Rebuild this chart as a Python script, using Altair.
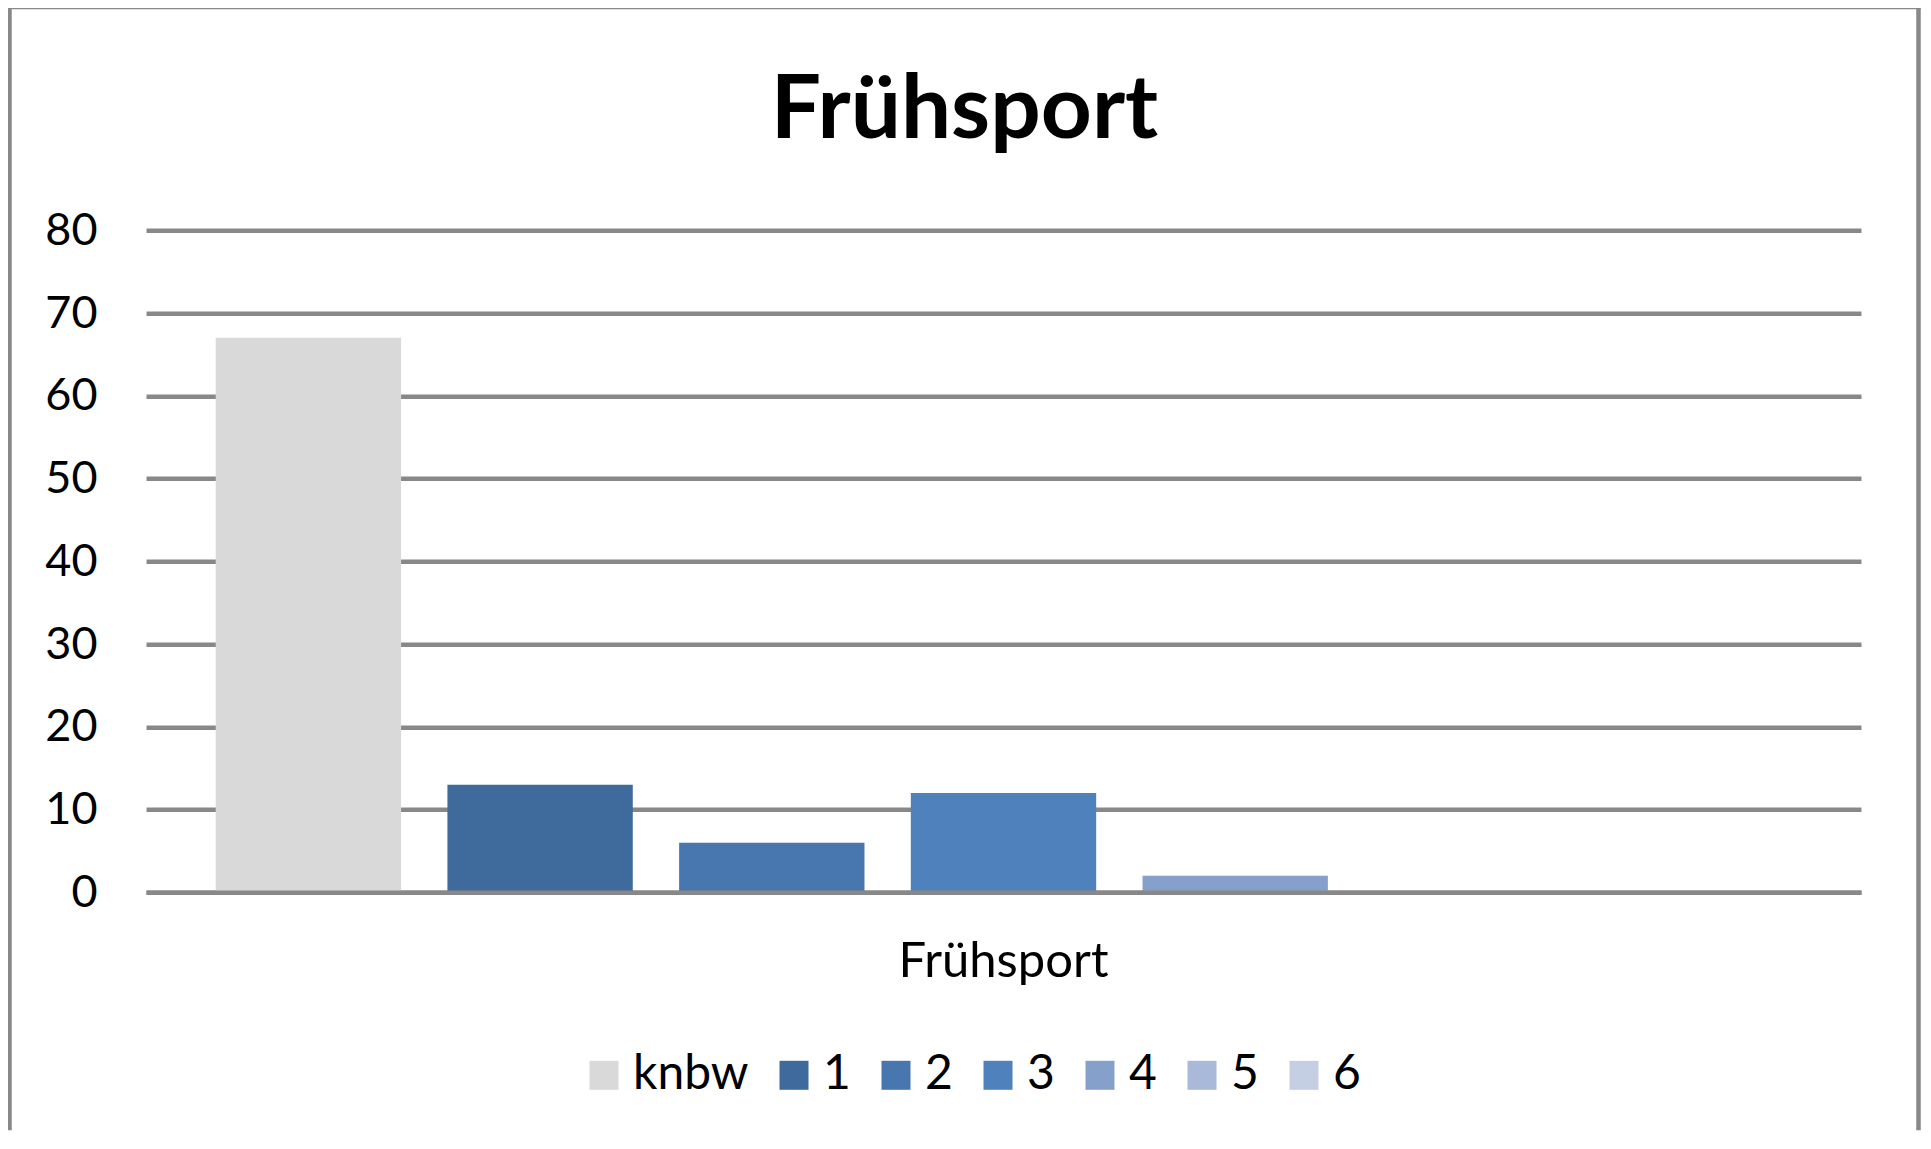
import altair as alt
import pandas as pd

# ---- data ----
CATEGORY = ["Frühsport"]
SERIES = ["knbw", "1", "2", "3", "4", "5", "6"]
VALUES = [67, 13, 6, 12, 2, 0, 0]
COLORS = ["#D9D9D9", "#3F6A9C", "#4876AF", "#4F81BD", "#86A0CC", "#A9B9D9", "#C4CFE3"]
Y_TICKS = [0, 10, 20, 30, 40, 50, 60, 70, 80]
TITLE = ["Frühsport"]

GRAY = "#888888"
FONT = "Lato"

df = pd.DataFrame({
    "cat": [CATEGORY[0]] * len(SERIES),
    "series": SERIES,
    "value": VALUES,
})

W, H = 1715, 662

bars = alt.Chart(df).mark_bar().encode(
    x=alt.X(
        "cat:N",
        title=None,
        scale=alt.Scale(paddingInner=0, paddingOuter=0.0287),
        axis=alt.Axis(
            labelAngle=0, labelFont=FONT, labelFontSize=49, labelColor="black",
            ticks=False, tickSize=0, labelPadding=84, labelBaseline="alphabetic",
            labelLimit=1000,
            domain=True, domainColor=GRAY, domainWidth=4.5, grid=False, zindex=1,
        ),
    ),
    xOffset=alt.XOffset(
        "series:N", sort=SERIES,
        scale=alt.Scale(paddingInner=0.2, paddingOuter=0.1),
    ),
    y=alt.Y(
        "value:Q",
        title=None,
        scale=alt.Scale(domain=[0, 80], nice=False, zero=True),
        axis=alt.Axis(
            values=Y_TICKS, labelFont=FONT, labelFontSize=45, labelColor="black",
            ticks=False, tickSize=0, labelPadding=49, domain=False,
            grid=True, gridColor=GRAY, gridWidth=4.5,
        ),
    ),
    color=alt.Color(
        "series:N",
        sort=SERIES,
        scale=alt.Scale(domain=SERIES, range=COLORS),
        legend=alt.Legend(
            title=None, orient="none", direction="horizontal",
            legendX=434, legendY=821, padding=0,
            symbolType="square", symbolSize=841, symbolStrokeWidth=0,
            labelFont=FONT, labelFontSize=48, labelColor="black",
            labelOffset=5, columnPadding=21, labelLimit=400,
        ),
    ),
)

base_border = alt.Chart(pd.DataFrame({"b": [0]}))
border_left = base_border.mark_rule(color=GRAY, strokeWidth=4.5).encode(
    x=alt.value(-136.5), y=alt.value(-225.5), y2=alt.value(900),
)
border_right = base_border.mark_rule(color=GRAY, strokeWidth=4.5).encode(
    x=alt.value(1772.5), y=alt.value(-225.5), y2=alt.value(900),
)
border_top = base_border.mark_rule(color=GRAY, strokeWidth=4.5).encode(
    x=alt.value(-138.75), x2=alt.value(1774.75), y=alt.value(-223.3),
)

title = alt.Chart(pd.DataFrame({"t": TITLE})).mark_text(
    font=FONT, fontWeight="bold", fontSize=89, align="center",
    baseline="alphabetic", color="black",
).encode(
    text="t:N", x=alt.value(818.5), y=alt.value(-92.3),
)

chart = alt.layer(border_left, border_right, border_top, bars, title).properties(
    width=W, height=H,
    autosize=alt.AutoSizeParams(type="none"),
    padding={"left": 138, "top": 222.3, "right": 60, "bottom": 243},
    background="white",
).configure_view(stroke=None)

chart.save("out.html", embed_options={"renderer": "svg", "actions": False})
